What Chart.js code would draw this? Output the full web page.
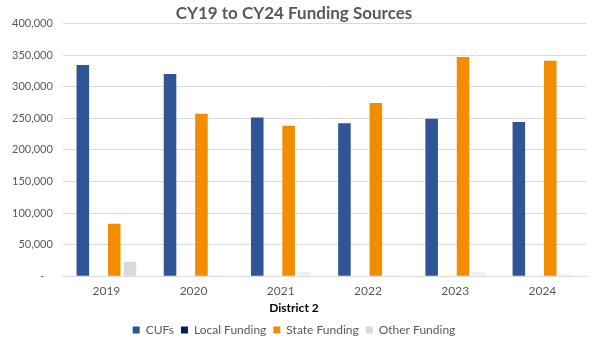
<!DOCTYPE html>
<html>
<head>
<meta charset="utf-8">
<script src="https://cdn.jsdelivr.net/npm/chart.js@4"></script>
<style>
  html, body { margin: 0; padding: 0; background: #fff; }
  #wrap { width: 600px; height: 346px; }
</style>
</head>
<body>
<div id="wrap"><canvas id="fundingChart"></canvas></div>
<script>
// chart data
const years = ['2019', '2020', '2021', '2022', '2023', '2024'];
const cufs = [334000, 320000, 251000, 242000, 249000, 244000];
const localFunding = [0, 0, 0, 0, 0, 0];
const stateFunding = [83000, 257000, 238000, 274000, 347000, 341000];
const otherFunding = [23000, 1500, 6500, 2000, 6500, 3000];
const yTicks = [0, 50000, 100000, 150000, 200000, 250000, 300000, 350000, 400000];

const fontFamily = 'Lato, "Open Sans", sans-serif';
const grey = '#595959';

// the first "other" bar is a darker grey than the rest in the original
const otherColors = otherFunding.map((v, i) => i === 0 ? '#d9d9d9' : '#f0f0f0');

const fundingChart = new Chart('fundingChart', {
    type: 'bar',
    data: {
        labels: years,
        datasets: [
            { label: 'CUFs', data: cufs, backgroundColor: '#2f5597' },
            { label: 'Local Funding', data: localFunding, backgroundColor: '#002060' },
            { label: 'State Funding', data: stateFunding, backgroundColor: '#f28c00' },
            { label: 'Other Funding', data: otherFunding, backgroundColor: otherColors }
        ]
    },
    options: {
        responsive: true,
        maintainAspectRatio: false,
        animation: false,
        datasets: {
            bar: { categoryPercentage: 0.72, barPercentage: 0.8 }
        },
        layout: { padding: { left: 2, right: 14, top: 0, bottom: 0 } },
        plugins: {
            title: {
                display: true,
                text: 'CY19 to CY24 Funding Sources',
                color: grey,
                font: { family: fontFamily, size: 17, weight: 'bold' },
                padding: { top: 3, bottom: 0 }
            },
            subtitle: {
                display: true,
                position: 'bottom',
                weight: 500,
                text: 'District 2',
                color: '#000',
                font: { family: fontFamily, size: 12, weight: 'bold' },
                padding: { top: 2, bottom: 2 }
            },
            legend: {
                position: 'bottom',
                labels: {
                    color: grey,
                    font: { family: fontFamily, size: 12 },
                    boxWidth: 7,
                    boxHeight: 7,
                    padding: 7
                }
            },
            tooltip: { enabled: false }
        },
        scales: {
            x: {
                grid: { display: false },
                border: { color: '#d9d9d9' },
                ticks: {
                    color: grey,
                    font: { family: fontFamily, size: 12 },
                    padding: 0
                }
            },
            y: {
                min: 0,
                max: 400000,
                afterBuildTicks: axis => {
                    axis.ticks = yTicks.map(v => ({ value: v }));
                },
                grid: { color: '#d9d9d9', drawTicks: false },
                border: { display: false },
                ticks: {
                    color: grey,
                    font: { family: fontFamily, size: 11 },
                    padding: 10,
                    callback: v => v === 0 ? '-   ' : v.toLocaleString('en-US')
                }
            }
        }
    }
});
</script>
</body>
</html>
